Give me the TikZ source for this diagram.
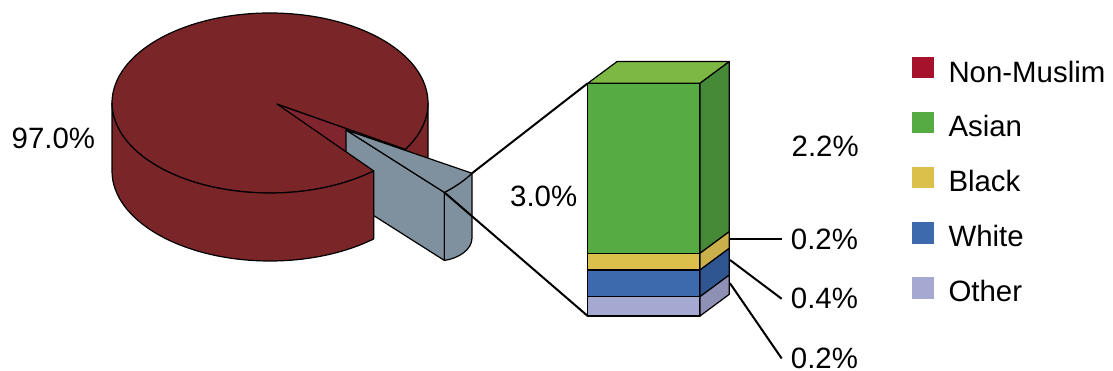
\documentclass[tikz,border=0pt]{standalone}
\usepackage{fontspec}
\setmainfont{Liberation Sans}
\usetikzlibrary{calc}
\definecolor{piered}{RGB}{122,37,40}
\definecolor{pieredin}{RGB}{128,36,46}
\definecolor{slicegray}{RGB}{127,144,159}
\definecolor{legred}{RGB}{166,18,43}
\definecolor{grfront}{RGB}{86,172,67}
\definecolor{grtop}{RGB}{124,184,67}
\definecolor{grside}{RGB}{70,138,55}
\definecolor{yefront}{RGB}{220,192,76}
\definecolor{yeside}{RGB}{201,176,75}
\definecolor{blfront}{RGB}{61,105,173}
\definecolor{blside}{RGB}{47,86,144}
\definecolor{lvfront}{RGB}{165,169,209}
\definecolor{lvside}{RGB}{142,145,181}
\tikzset{
  face/.style={draw=black, line width=1.2pt, line join=round},
  conn/.style={draw=black, line width=2pt},
  lbl/.style={font=\fontsize{29.4}{35}\selectfont, inner sep=0pt, anchor=base west},
  lead/.style={font=\fontsize{29.4}{35}\selectfont, inner xsep=9pt, inner ysep=0pt, anchor=west},
  sq/.style={minimum size=21.7pt, inner sep=0pt, draw=none}
}
\begin{document}
\begin{tikzpicture}[x=1pt,y=-1pt]
\useasboundingbox (0,0) rectangle (1113,371);
% ---------- pie coordinates ----------
\coordinate (A) at (277,104);
\coordinate (P0) at (428,103);
\coordinate (P31) at (405.43,149.35);
\coordinate (P49) at (373.66,170.92);
\coordinate (G) at (346,130);
\coordinate (g31) at (472.0,173.26);
\coordinate (g48) at (444.36,192.42);
\coordinate (g48b) at (444.36,260.42);
\coordinate (g31b) at (472.0,238);
% right side of the pie (0..31 deg)
\path[face, fill=piered] (P0) arc[start angle=0, end angle=31, x radius=158, y radius=90]
   -- ++(0,68) arc[start angle=31, end angle=0, x radius=158, y radius=90] -- cycle;
% inner cut face
\path[face, fill=pieredin] (A) -- (P31) -- ++(0,68) -- ($(A)+(0,68)$) -- cycle;
% exploded slice
\path[face, fill=slicegray] (G) -- (g48) -- (g48b) -- ($(G)+(0,68)$) -- cycle;
\path[face, fill=slicegray] (g31) arc[start angle=31, end angle=48, x radius=147, y radius=84]
   -- (g48b) .. controls (458,258.5) and (472,250) .. (g31b) -- cycle;
\path[face, fill=slicegray] (G) -- (g31) arc[start angle=31, end angle=48, x radius=147, y radius=84] -- cycle;
% top of the pie
\path[face, fill=piered] (A) -- (P49) arc[start angle=49, end angle=391, x radius=158, y radius=90] -- cycle;
% front side of the pie
\path[face, fill=piered] (P49) arc[start angle=49, end angle=180, x radius=158, y radius=90]
   -- ++(0,68) arc[start angle=180, end angle=49, x radius=158, y radius=90] -- cycle;
% ---------- bar ----------
\coordinate (bTL) at (587.7,83.3);
\coordinate (bTR) at (700,83.3);
\coordinate (bBL) at (587.7,316);
\def\dx{29.3}
\def\dy{-21.7}
% top
\path[face, fill=grtop] (587.7,83.3) -- ++(\dx,\dy) -- (729.3,61.6) -- (700,83.3) -- cycle;
% front bands
\path[face, fill=grfront] (587.7,83.3) rectangle (700,253.3);
\path[face, fill=yefront] (587.7,253.3) rectangle (700,270);
\path[face, fill=blfront] (587.7,270) rectangle (700,296.7);
\path[face, fill=lvfront] (587.7,296.7) rectangle (700,316);
% side bands
\path[face, fill=grside] (700,83.3) -- ++(\dx,\dy) -- (729.3,231.6) -- (700,253.3) -- cycle;
\path[face, fill=yeside] (700,253.3) -- (729.3,231.6) -- (729.3,248.3) -- (700,270) -- cycle;
\path[face, fill=blside] (700,270) -- (729.3,248.3) -- (729.3,275) -- (700,296.7) -- cycle;
\path[face, fill=lvside] (700,296.7) -- (729.3,275) -- (729.3,294.3) -- (700,316) -- cycle;
% connectors slice -> bar
\draw[conn] (g31) -- (bTL);
\draw[conn] (g48) -- (bBL);
% ---------- labels ----------
\node[lbl] (l97) at (11.5,149) {97.0\%};
\node[lbl] (l30) at (510,206.7) {3.0\%};
\node[lbl] (l22) at (791.5,157) {2.2\%};
\coordinate (sY) at (730,239.3);
\coordinate (sB) at (730,260);
\coordinate (sL) at (730,283.3);
\node[lead] (lY) at (781.7,239.3) {0.2\%};
\node[lead] (lB) at (781.7,298.8) {0.4\%};
\node[lead] (lL) at (781.7,358.5) {0.2\%};
\draw[conn] (sY) -- (lY.west);
\draw[conn] (sB) -- (lB.west);
\draw[conn] (sL) -- (lL.west);
% ---------- legend ----------
\node[sq, fill=legred] (q1) at (923.2,67.5) {};
\node[sq, fill=grfront] (q2) at (923.2,122.5) {};
\node[sq, fill=yefront] (q3) at (923.2,177.5) {};
\node[sq, fill=blfront] (q4) at (923.2,233.3) {};
\node[sq, fill=lvfront] (q5) at (923.2,288.2) {};
\node[lbl] (t1) at (948.3,82.7) {Non-Muslim};
\node[lbl] (t2) at (948.3,136.7) {Asian};
\node[lbl] (t3) at (948.3,191.7) {Black};
\node[lbl] (t4) at (948.3,246.7) {White};
\node[lbl] (t5) at (948.3,301.7) {Other};
\end{tikzpicture}
\end{document}
